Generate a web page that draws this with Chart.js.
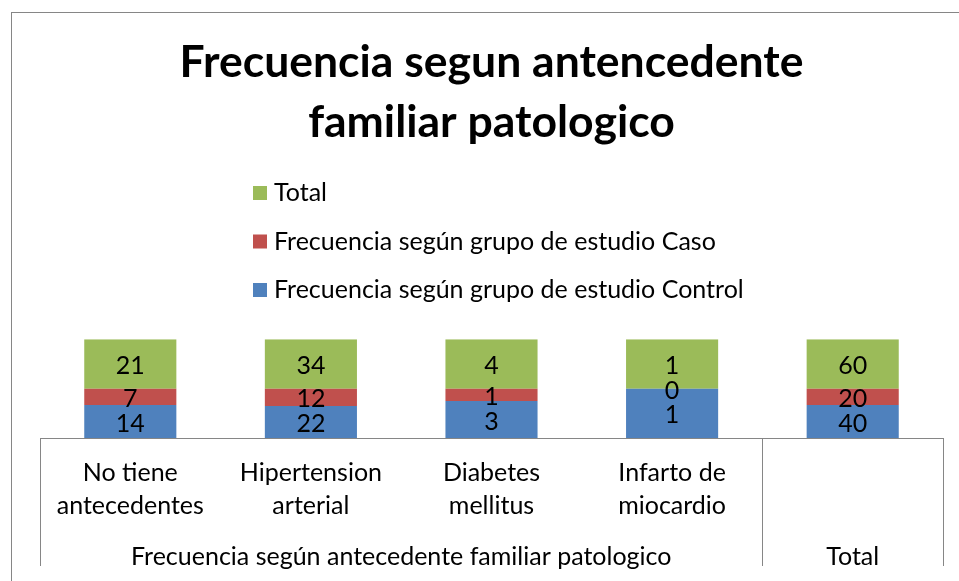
<!DOCTYPE html>
<html>
<head>
<meta charset="utf-8">
<script src="https://cdn.jsdelivr.net/npm/chart.js@4.4.1/dist/chart.umd.min.js"></script>
<style>
  html, body { margin: 0; padding: 0; background: #ffffff; }
  #wrap { position: relative; width: 959px; height: 581px; }
</style>
</head>
<body>
<div id="wrap"><canvas id="c" width="959" height="581"></canvas></div>
<script>
// ---- data ----
const categories = [
  ["No tiene", "antecedentes"],
  ["Hipertension", "arterial"],
  ["Diabetes", "mellitus"],
  ["Infarto de", "miocardio"],
  [""]
];
const groupLabels = ["Frecuencia según antecedente familiar patologico", "Total"];
const groupSizes = [4, 1];
const seriesNames = [
  "Frecuencia según grupo de estudio Control",
  "Frecuencia según grupo de estudio Caso",
  "Total"
];
const control = [14, 22, 3, 1, 40];
const caso = [7, 12, 1, 0, 20];
const total = [21, 34, 4, 1, 60];
const titleLines = ["Frecuencia segun antencedente", "familiar patologico"];

const colors = ["#4F81BD", "#C0504D", "#9BBB59"];
const FONT = "Lato, 'Open Sans', sans-serif";
const TXT = 25;

// 100% stacked: share of each series in its category
const raw = [control, caso, total];
const sums = categories.map((_, i) => raw.reduce((s, arr) => s + arr[i], 0));
const pct = raw.map(arr => arr.map((v, i) => sums[i] ? v / sums[i] * 100 : 0));

const borderPlugin = {
  id: 'outerBorder',
  beforeDraw(chart) {
    const ctx = chart.ctx;
    ctx.save();
    ctx.fillStyle = '#ffffff';
    ctx.fillRect(0, 0, chart.width, chart.height);
    ctx.strokeStyle = '#868686';
    ctx.lineWidth = 1;
    ctx.strokeRect(11.5, 12.5, chart.width + 10, chart.height + 10);
    ctx.restore();
  }
};

const legendPlugin = {
  id: 'columnLegend',
  afterDraw(chart) {
    const ctx = chart.ctx;
    const ds = chart.data.datasets;
    const x0 = 253, y0 = 193, step = 48.5, box = 14;
    ctx.save();
    ctx.font = TXT + "px " + FONT;
    ctx.textBaseline = 'middle';
    ctx.textAlign = 'left';
    for (let k = 0; k < ds.length; k++) {
      const d = ds[ds.length - 1 - k];
      const y = y0 + k * step;
      ctx.fillStyle = d.backgroundColor;
      ctx.fillRect(x0, y - box / 2, box, box);
      ctx.fillStyle = '#000000';
      ctx.fillText(d.label, x0 + 21, y);
    }
    ctx.restore();
  }
};

const valueLabelPlugin = {
  id: 'valueLabels',
  afterDatasetsDraw(chart) {
    const ctx = chart.ctx;
    ctx.save();
    ctx.font = TXT + "px " + FONT;
    ctx.fillStyle = '#000000';
    ctx.textAlign = 'center';
    ctx.textBaseline = 'middle';
    chart.data.datasets.forEach((d, di) => {
      const meta = chart.getDatasetMeta(di);
      meta.data.forEach((el, i) => {
        const y = (el.y + el.base) / 2;
        ctx.fillText(String(raw[di][i]), el.x, y + 2);
      });
    });
    ctx.restore();
  }
};

const axisPlugin = {
  id: 'multiLevelAxis',
  afterDraw(chart) {
    const ctx = chart.ctx;
    const xs = chart.scales.x;
    const area = chart.chartArea;
    const bottomY = 566;
    const bounds = [area.left];
    let idx = 0;
    groupSizes.forEach(n => {
      idx += n;
      if (idx < categories.length) {
        bounds.push((xs.getPixelForValue(idx - 1) + xs.getPixelForValue(idx)) / 2);
      } else {
        bounds.push(area.right);
      }
    });
    ctx.save();
    ctx.strokeStyle = '#868686';
    ctx.lineWidth = 1;
    bounds.forEach(b => {
      const xx = Math.round(b) + 0.5;
      ctx.beginPath();
      ctx.moveTo(xx, area.bottom);
      ctx.lineTo(xx, bottomY);
      ctx.stroke();
    });
    ctx.font = TXT + "px " + FONT;
    ctx.fillStyle = '#000000';
    ctx.textAlign = 'center';
    ctx.textBaseline = 'middle';
    groupLabels.forEach((g, k) => {
      ctx.fillText(g, (bounds[k] + bounds[k + 1]) / 2, 557);
    });
    ctx.restore();
  }
};

new Chart(document.getElementById('c'), {
  type: 'bar',
  data: {
    labels: categories,
    datasets: seriesNames.map((name, k) => ({
      label: name,
      data: pct[k],
      backgroundColor: colors[k],
      borderWidth: 0,
      barPercentage: 0.51,
      categoryPercentage: 1.0,
      stack: 's'
    }))
  },
  options: {
    responsive: false,
    animation: false,
    layout: { padding: { left: 40, right: 16, top: 0, bottom: 0 } },
    plugins: {
      legend: { display: false },
      tooltip: { enabled: false },
      title: {
        display: true,
        text: titleLines,
        color: '#000000',
        font: { family: FONT, size: 44.5, weight: 'bold', lineHeight: 1.34 },
        padding: { top: 33, bottom: 187 }
      }
    },
    scales: {
      x: {
        stacked: true,
        offset: true,
        grid: { display: false, drawTicks: false },
        border: { display: true, color: '#868686', width: 1 },
        ticks: {
          color: '#000000',
          font: { family: FONT, size: TXT, lineHeight: 1.3 },
          padding: 19,
          maxRotation: 0,
          autoSkip: false
        },
        afterFit(scale) { scale.height = 143; }
      },
      y: {
        stacked: true,
        display: false,
        min: 0,
        max: 100
      }
    }
  },
  plugins: [borderPlugin, legendPlugin, valueLabelPlugin, axisPlugin]
});
</script>
</body>
</html>
